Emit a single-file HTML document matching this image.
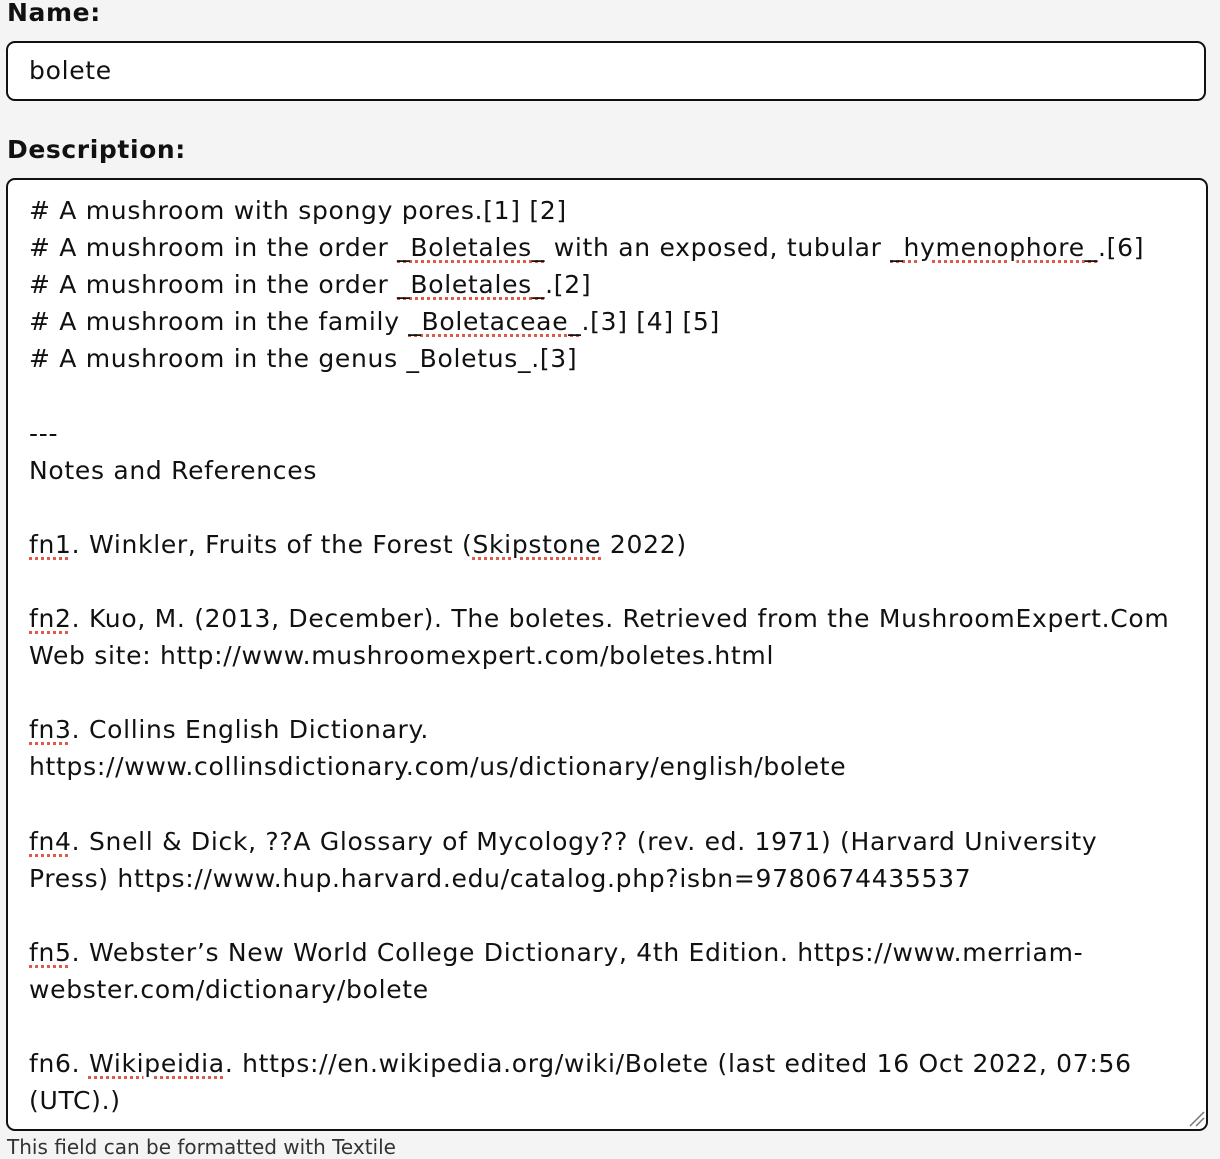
<!DOCTYPE html>
<html><head><meta charset="utf-8"><style>
html,body{margin:0;padding:0;background:#f4f4f4;width:1220px;height:1140px;overflow:hidden;font-family:"DejaVu Sans","Liberation Sans",sans-serif;color:#111}
.lbl{position:absolute;left:7px;font-weight:bold;font-size:25px;letter-spacing:0.6px}
.box{position:absolute;background:#fff;border:2px solid #111;border-radius:9px;box-sizing:border-box}
.t{position:absolute;left:29px;font-size:25px;white-space:pre;line-height:37.1px;top:192px;letter-spacing:0.7px}
.s{text-decoration:underline dotted #e05a4a;text-decoration-thickness:3px;text-underline-offset:4px}
</style></head><body>
<div class="lbl" style="top:-2px">Name:</div>
<div class="box" style="left:6px;top:41px;width:1200px;height:60px"></div>
<div style="position:absolute;left:29px;top:56px;font-size:25px;letter-spacing:0.7px">bolete</div>
<div class="lbl" style="top:135px">Description:</div>
<div class="box" style="left:6px;top:178px;width:1202px;height:953px"></div>
<div class="t"># A mushroom with spongy pores.[1] [2]
# A mushroom in the order <span class="s">_Boletales_</span> with an exposed, tubular <span class="s">_hymenophore_</span>.[6]
# A mushroom in the order <span class="s">_Boletales_</span>.[2]
# A mushroom in the family <span class="s">_Boletaceae_</span>.[3] [4] [5]
# A mushroom in the genus _Boletus_.[3]

---
Notes and References

<span class="s">fn1</span>. Winkler, Fruits of the Forest (<span class="s">Skipstone</span> 2022)

<span class="s">fn2</span>. Kuo, M. (2013, December). The boletes. Retrieved from the MushroomExpert.Com
Web site: http://www.mushroomexpert.com/boletes.html

<span class="s">fn3</span>. Collins English Dictionary.
https://www.collinsdictionary.com/us/dictionary/english/bolete

<span class="s">fn4</span>. Snell &amp; Dick, ??A Glossary of Mycology?? (rev. ed. 1971) (Harvard University
Press) https://www.hup.harvard.edu/catalog.php?isbn=9780674435537

<span class="s">fn5</span>. Webster’s New World College Dictionary, 4th Edition. https://www.merriam-
webster.com/dictionary/bolete

fn6. <span class="s">Wikipeidia</span>. https://en.wikipedia.org/wiki/Bolete (last edited 16 Oct 2022, 07:56
(UTC).)</div>
<svg style="position:absolute;left:1188px;top:1110px" width="18" height="18"><path d="M2 16L16 2M8 16L16 8" stroke="#777" stroke-width="1.5"/></svg>
<div style="position:absolute;left:7px;top:1135px;font-size:20px;color:#333">This field can be formatted with Textile</div>
</body></html>
